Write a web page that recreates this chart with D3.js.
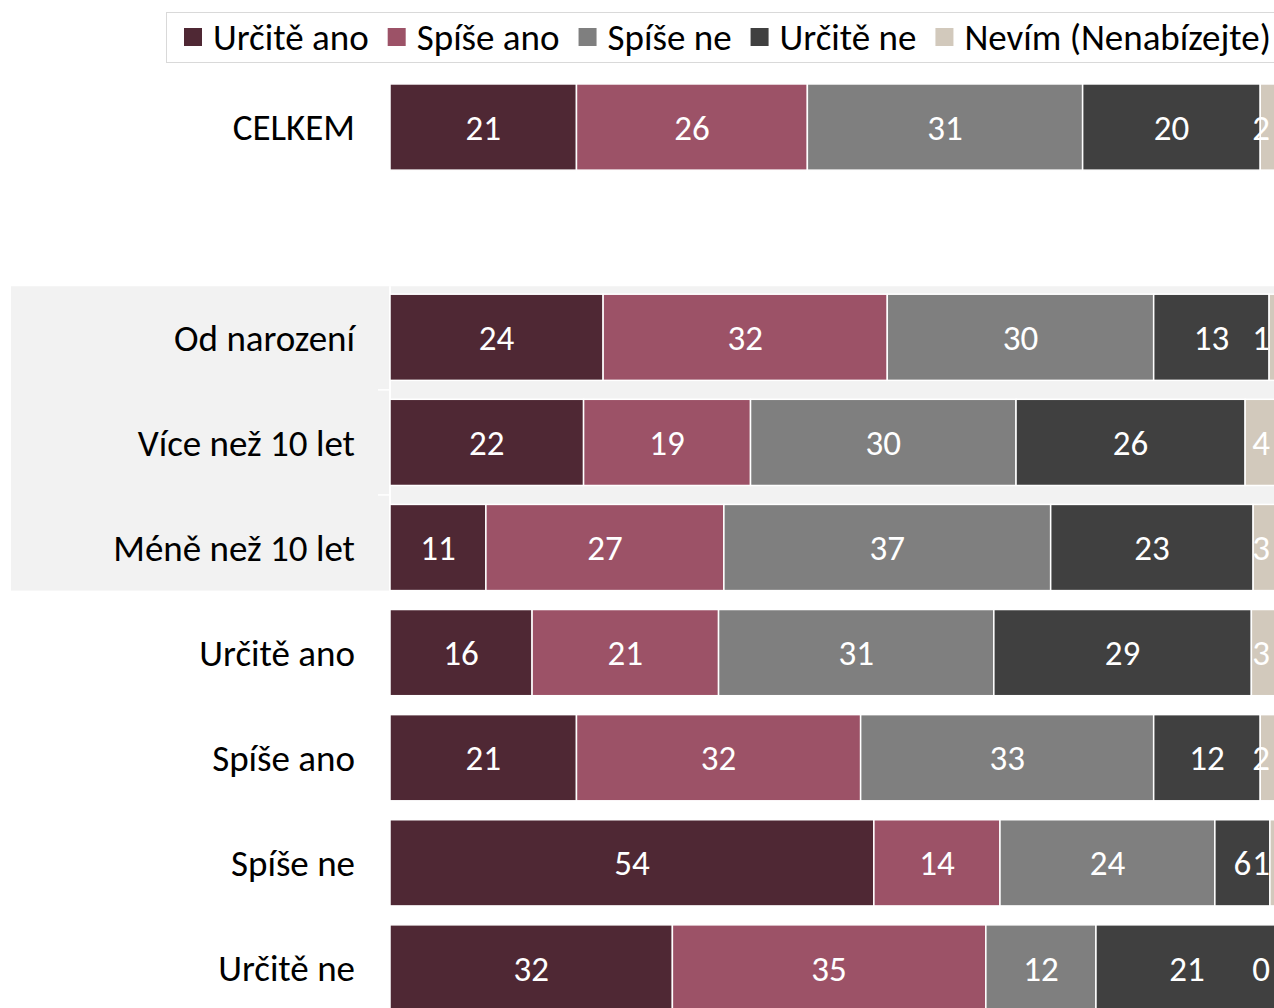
<!DOCTYPE html>
<html>
<head>
<meta charset="utf-8">
<script src="https://cdn.jsdelivr.net/npm/d3@7"></script>
<style>
  html, body { margin: 0; padding: 0; background: #fff; overflow: hidden; }
  svg { display: block; font-family: Carlito, Calibri, Lato, sans-serif; }
</style>
</head>
<body>
<svg width="1274" height="1008"></svg>
<script>
// categories, top to bottom ("" is the empty spacer row)
var categories = ["CELKEM", "", "Od narození", "Více než 10 let", "Méně než 10 let",
                  "Určitě ano", "Spíše ano", "Spíše ne", "Určitě ne"];
var grouped = ["Od narození", "Více než 10 let", "Méně než 10 let"];

var seriesNames = ["Určitě ano", "Spíše ano", "Spíše ne", "Určitě ne", "Nevím (Nenabízejte)"];
var seriesColors = ["#4f2834", "#9c5267", "#7f7f7f", "#404040", "#d2c9bc"];

// values per category (spacer row has none)
var urciteAno = [21, null, 24, 21.8, 10.8, 16, 21, 54.49, 31.8];
var spiseAno  = [26, null, 32, 18.8, 26.8, 21, 32, 14.2, 35.3];
var spiseNe   = [31, null, 30, 29.9, 36.8, 31, 33, 24.2, 12.4];
var urciteNe  = [20, null, 13, 25.8, 22.8, 29, 12, 6.2, 20.5];
var nevim     = [2,  null, 1,  3.7,  2.8,  3,  2,  0.8, 0];

var svg = d3.select("svg");
var W = 1274, H = 1008;

var rows = categories.map(function(c, i) {
  return {cat: c, key: "k" + i, vals: [urciteAno[i], spiseAno[i], spiseNe[i], urciteNe[i], nevim[i]]};
});

var x = d3.scaleLinear().domain([0, 100]).range([390, 1278]);
var y = d3.scaleBand()
  .domain(rows.map(function(d) { return d.key; }))
  .range([74.5, 1020.5])
  .paddingInner(0.18)
  .paddingOuter(0.09);
var keyOf = {};
rows.forEach(function(d) { keyOf[d.cat] = d.key; });

// grey band behind the grouped rows
var bandTop = y(keyOf[grouped[0]]) - y.step() * y.paddingInner() * 0.42;
var bandBot = y(keyOf[grouped[grouped.length - 1]]) + y.bandwidth();
svg.append("rect")
  .attr("x", 11).attr("y", bandTop)
  .attr("width", W - 11).attr("height", bandBot - bandTop)
  .attr("fill", "#f2f2f2");

// white axis line + boundary ticks
svg.append("line")
  .attr("x1", 390).attr("x2", 390)
  .attr("y1", bandTop).attr("y2", bandBot + 2)
  .attr("stroke", "#fff").attr("stroke-width", 2);
grouped.slice(0, -1).forEach(function(c) {
  var yy = y(keyOf[c]) + y.bandwidth() + y.step() * y.paddingInner() / 2;
  svg.append("line")
    .attr("x1", 378).attr("x2", 390)
    .attr("y1", yy).attr("y2", yy)
    .attr("stroke", "#fff").attr("stroke-width", 1.5);
});

// bars
var segs = [];
rows.forEach(function(r) {
  if (r.vals[0] == null) return;
  var acc = 0;
  r.vals.forEach(function(v, j) {
    segs.push({key: r.key, s: j, x0: acc, x1: acc + v, v: v});
    acc += v;
  });
});

var g = svg.append("g");
g.selectAll("rect")
  .data(segs)
  .enter().append("rect")
    .attr("x", function(d) { return x(d.x0); })
    .attr("y", function(d) { return y(d.key); })
    .attr("width", function(d) { return x(d.x1) - x(d.x0); })
    .attr("height", y.bandwidth())
    .attr("fill", function(d) { return seriesColors[d.s]; })
    .attr("stroke", "#fff")
    .attr("stroke-width", 1.5);

// value labels
var lab = g.selectAll("text.val")
  .data(segs)
  .enter().append("text")
    .attr("class", "val")
    .attr("fill", "#fff")
    .attr("font-size", 35)
    .attr("dy", "0.36em")
    .attr("y", function(d) { return y(d.key) + y.bandwidth() / 2; })
    .text(function(d) { return Math.round(d.v); });
lab.each(function(d) {
  var w = this.getComputedTextLength();
  var cx = (x(d.x0) + x(d.x1)) / 2;
  if (cx + w / 2 > 1270) cx = 1270 - w / 2;   // keep inside chart area
  d3.select(this).attr("x", cx).attr("text-anchor", "middle");
});

// category labels
var yAxis = d3.axisLeft(y)
  .tickSize(0)
  .tickPadding(0)
  .tickFormat(function(k) { return rows.find(function(r) { return r.key === k; }).cat; });
var ax = svg.append("g")
  .attr("transform", "translate(355,0)")
  .call(yAxis);
ax.select(".domain").remove();
ax.selectAll("text")
  .attr("font-family", "Carlito, Calibri, Lato, sans-serif")
  .attr("font-size", 37)
  .attr("fill", "#000")
  .attr("dy", "0.36em");

// legend
var legend = svg.append("g");
legend.append("rect")
  .attr("x", 166.5).attr("y", 12.5)
  .attr("width", W - 166).attr("height", 50)
  .attr("fill", "#fff")
  .attr("stroke", "#d9d9d9");
var lx = 184;
seriesNames.forEach(function(name, i) {
  legend.append("rect")
    .attr("x", lx).attr("y", 28)
    .attr("width", 18).attr("height", 18)
    .attr("fill", seriesColors[i]);
  var t = legend.append("text")
    .attr("x", lx + 29).attr("y", 37)
    .attr("dy", "0.36em")
    .attr("font-size", 37)
    .attr("fill", "#000")
    .text(name);
  lx += 29 + t.node().getComputedTextLength() + 19;
});
</script>
</body>
</html>
